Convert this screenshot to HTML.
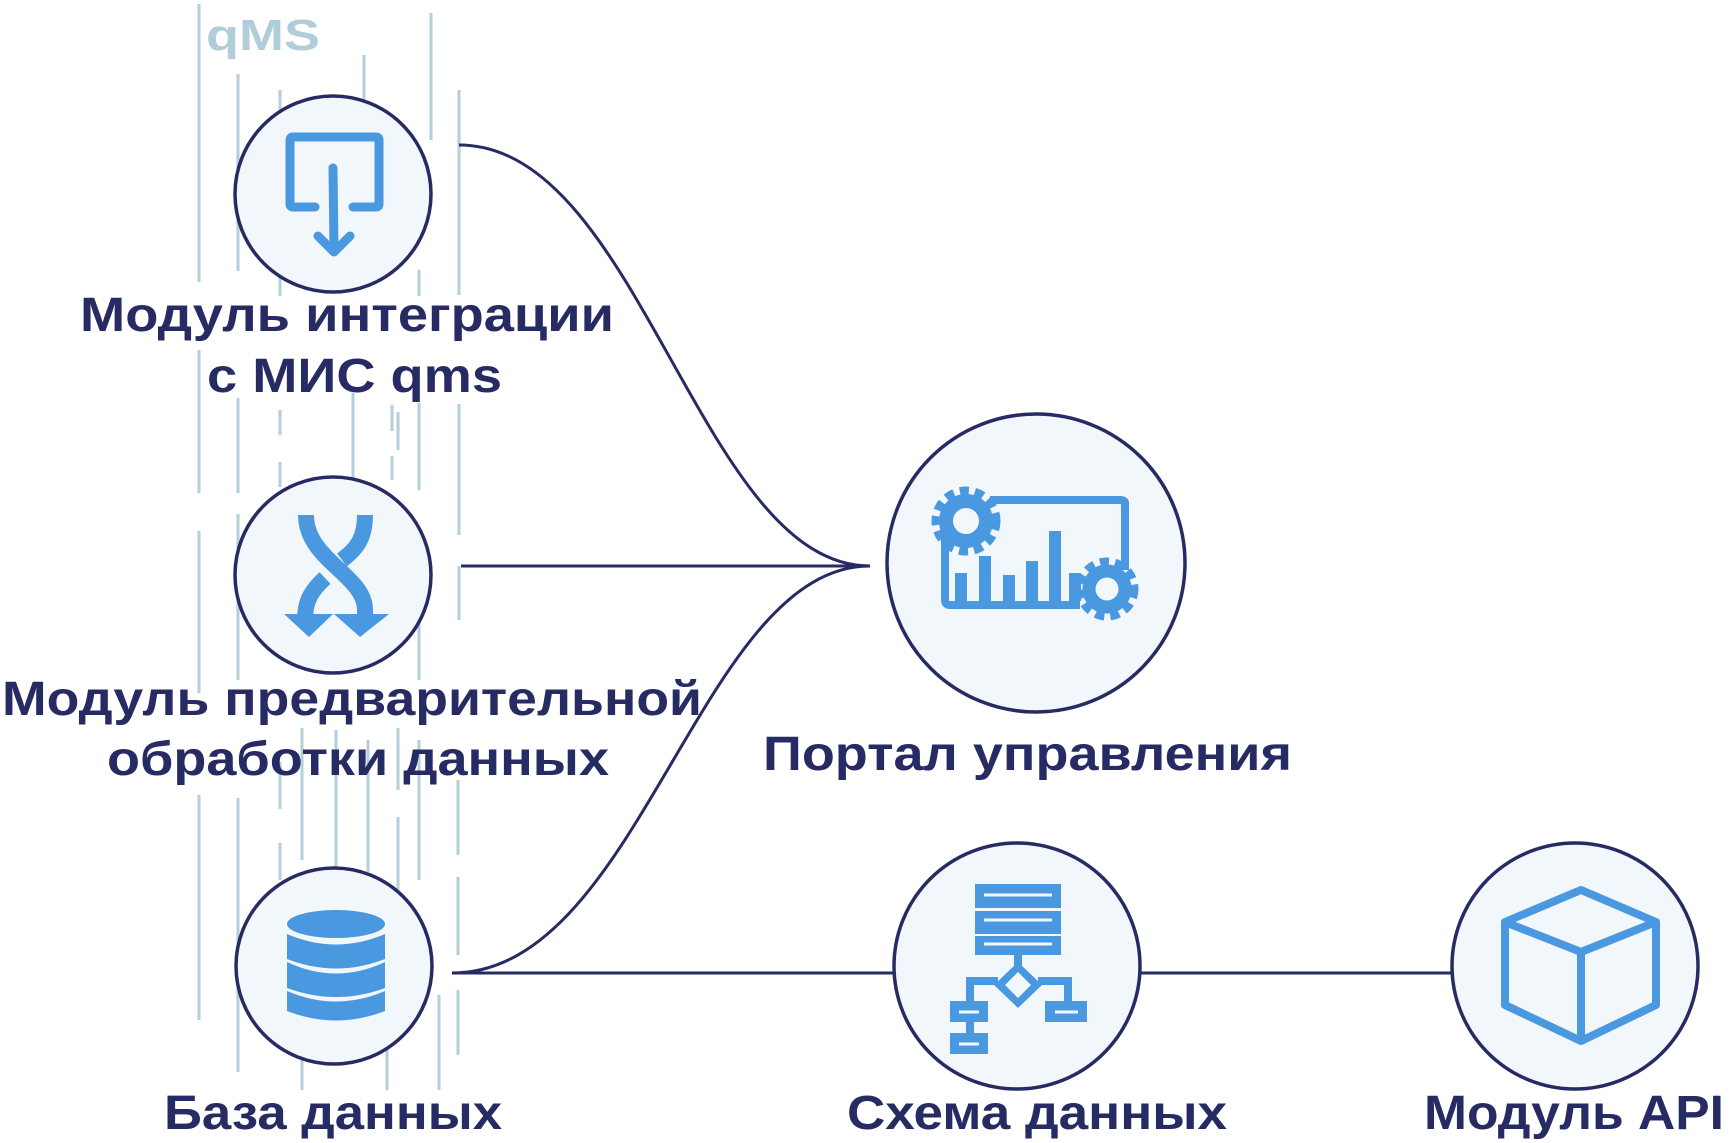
<!DOCTYPE html>
<html><head><meta charset="utf-8"><style>
html,body{margin:0;padding:0;background:#fff;}
svg{display:block;}
text{font-family:"Liberation Sans","DejaVu Sans",sans-serif;font-weight:bold;fill:#272b63;}
</style></head><body>
<svg width="1730" height="1143" viewBox="0 0 1730 1143" xmlns="http://www.w3.org/2000/svg">
<g stroke="#b3cfdb" stroke-width="3" fill="none">
<path d="M199 4V282 M199 350V493 M199 531V693 M199 795V1020"/>
<path d="M238 74V271 M238 398V493 M238 514V680 M238 798V1072"/>
<path d="M280 90V296 M280 410V435 M280 462V487 M280 762V809 M280 843V880"/>
<path d="M270 940V1000"/>
<path d="M302 728V860 M302 1040V1090"/>
<path d="M336 730V870 M336 1020V1060"/>
<path d="M364 55V100 M353 393V478 M368 740V872"/>
<path d="M392 405V431 M392 456V480 M398 412V450 M398 728V790 M398 817V892"/>
<path d="M387 1000V1090 M439 995V1090"/>
<path d="M431 13V140 M419 270V296 M419 403V490 M419 609V680 M419 740V880"/>
<path d="M459 90V295 M459 404V535 M459 566V620 M458 780V855 M458 877V955 M458 990V1055"/>
</g>
<g stroke="#272b63" stroke-width="3" fill="none">
<path d="M459 145 C640 145 700 566 870 566"/>
<path d="M461 566 H870"/>
<path d="M452 973 C640 973 700 566 870 566"/>
<path d="M452 973 H900"/>
<path d="M1140 973 H1455"/>
</g>
<g stroke="#272b63" stroke-width="3.5" fill="#f2f7fc">
<circle cx="333" cy="194" r="98"/>
<circle cx="333" cy="575" r="98"/>
<circle cx="334" cy="966" r="98"/>
<circle cx="1036" cy="563" r="149"/>
<circle cx="1017" cy="966" r="123"/>
<circle cx="1575" cy="966" r="123"/>
</g>
<!-- integration icon -->
<g stroke="#4a98e0" fill="none" stroke-width="9" stroke-linejoin="round" stroke-linecap="round">
<path d="M315 207 H293 Q290 207 290 204 V140 Q290 137 293 137 H376 Q379 137 379 140 V204 Q379 207 376 207 H353"/>
<path d="M333 168 L334 250 M318 236 L334 252 L350 236"/>
</g>
<!-- cross arrows icon -->
<g fill="none" stroke="#4a98e0" stroke-width="16">
<path d="M306 515 C306 560 365 575 365 610 V620"/>
<path d="M365 515 C365 540 355 550 342 560"/>
<path d="M325 578 C312 590 305 600 305 620"/>
</g>
<g fill="#4a98e0">
<path d="M284 614 H333 L309 637 Z"/><path d="M334 614 H389 L360 637 Z"/>
</g>
<!-- database icon -->
<g fill="#4a98e0">
<ellipse cx="336" cy="924" rx="49" ry="14"/>
<path d="M287 934 Q336 955 385 934 V959 Q336 978 287 959 Z"/>
<path d="M287 962 Q336 985 385 962 V988 Q336 1006 287 988 Z"/>
<path d="M287 991 Q336 1012 385 991 V1011 Q336 1030 287 1011 Z"/>
</g>
<!-- portal icon -->
<g fill="none" stroke="#4a98e0" stroke-width="8">
<path d="M945 530 V600 Q945 605 950 605 H1080 M1125 570 V503 Q1125 500 1120 500 H990"/>
</g>
<g fill="#4a98e0">
<rect x="955" y="573" width="12" height="28"/><rect x="979" y="556" width="12" height="45"/>
<rect x="1003" y="575" width="12" height="26"/><rect x="1026" y="561" width="12" height="40"/>
<rect x="1049" y="531" width="12" height="70"/><rect x="1069" y="573" width="12" height="28"/>
</g>
<g fill="none" stroke="#4a98e0">
<circle cx="966" cy="521" r="20" stroke-width="14"/>
<circle cx="966" cy="521" r="30" stroke-width="9" stroke-dasharray="9 6"/>
<circle cx="1107" cy="589" r="18" stroke-width="13"/>
<circle cx="1107" cy="589" r="27" stroke-width="9" stroke-dasharray="9 6"/>
</g>
<!-- schema icon -->
<g fill="#4a98e0">
<rect x="975" y="884" width="86" height="24"/><rect x="975" y="911" width="86" height="23"/><rect x="975" y="936" width="86" height="19"/>
<rect x="1014" y="955" width="8" height="12"/>
<path d="M1018 962 L1042 985 L1018 1008 L994 985 Z M1018 972 L1005 985 L1018 998 L1031 985 Z" fill-rule="evenodd"/>
<rect x="966" y="977" width="32" height="8"/><rect x="1038" y="977" width="34" height="8"/>
<rect x="966" y="977" width="8" height="26"/><rect x="1064" y="977" width="8" height="26"/>
<rect x="950" y="1001" width="38" height="21"/><rect x="966" y="1020" width="8" height="15"/>
<rect x="950" y="1033" width="38" height="21"/><rect x="1045" y="1001" width="42" height="21"/>
</g>
<g stroke="#f2f7fc" stroke-width="3">
<path d="M984 895H1052 M984 920H1052 M984 944H1052 M959 1012H979 M959 1044H979 M1055 1012H1078"/>
</g>
<!-- cube icon -->
<g fill="none" stroke="#4a98e0" stroke-width="8" stroke-linejoin="round">
<path d="M1581 890 L1656 922 V1005 L1581 1041 L1505 1005 V922 Z"/>
<path d="M1505 922 L1581 952 L1656 922 M1581 952 V1041"/>
</g>
<!-- labels -->
<text x="206" y="50" font-size="44" fill="#b0cdd9" style="fill:#b0cdd9" textLength="114" lengthAdjust="spacingAndGlyphs">qMS</text>
<g font-size="48">
<text x="80" y="331" textLength="534" lengthAdjust="spacingAndGlyphs">Модуль интеграции</text>
<text x="207" y="392" textLength="295" lengthAdjust="spacingAndGlyphs">с МИС qms</text>
<text x="2" y="715" textLength="700" lengthAdjust="spacingAndGlyphs">Модуль предварительной</text>
<text x="107" y="775" textLength="502" lengthAdjust="spacingAndGlyphs">обработки данных</text>
<text x="763" y="770" textLength="529" lengthAdjust="spacingAndGlyphs">Портал управления</text>
<text x="164" y="1129" textLength="338" lengthAdjust="spacingAndGlyphs">База данных</text>
<text x="847" y="1129" textLength="380" lengthAdjust="spacingAndGlyphs">Схема данных</text>
<text x="1424" y="1129" textLength="300" lengthAdjust="spacingAndGlyphs">Модуль API</text>
</g>
</svg>
</body></html>
